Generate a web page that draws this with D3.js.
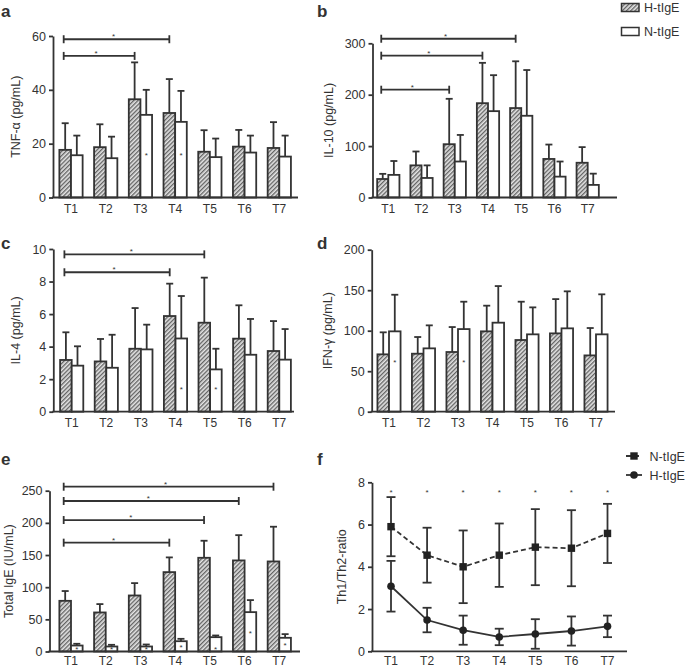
<!DOCTYPE html>
<html><head><meta charset="utf-8">
<script src="https://cdn.jsdelivr.net/npm/d3@7"></script>
<style>
body{margin:0;background:#fff;}
svg text{font-family:"Liberation Sans",Arial,Helvetica,sans-serif;fill:#333;}
</style></head><body>
<svg id="chart" width="685" height="668"></svg>
<script>
// ---------- data ----------
const times = ["T1","T2","T3","T4","T5","T6","T7"];
const groupNames = ["H-tIgE","N-tIgE"];

// a: TNF-alpha (pg/mL)
const tnfH   = [17.7, 18.7, 36.5, 31.4, 17.0, 18.9, 18.4];
const tnfHsd = [9.9, 8.5, 13.7, 12.6, 8.0, 6.2, 9.6];
const tnfN   = [15.7, 14.6, 30.7, 28.1, 15.0, 16.7, 15.2];
const tnfNsd = [7.3, 8.0, 9.3, 11.5, 6.9, 6.3, 7.8];
const tnfTicks = [0, 20, 40, 60];
const tnfBrackets = [[0, 3, 58.8], [0, 2, 52.6]];
const tnfStars = [[2, 16.5], [3, 16.5]];

// b: IL-10 (pg/mL)
const il10H   = [36, 62.5, 103.7, 183.5, 174, 75, 67.6];
const il10Hsd = [10, 27, 88.3, 78.5, 91, 28, 30.4];
const il10N   = [44, 38, 70, 168, 159, 40.6, 24.5];
const il10Nsd = [27, 24.5, 51.7, 70, 89, 29.4, 21.9];
const il10Ticks = [0, 100, 200, 300];
const il10Brackets = [[0, 4, 308.9], [0, 3, 275.9], [0, 2, 209.7]];
const il10Stars = [];

// c: IL-4 (pg/mL)
const il4H   = [3.18, 3.09, 3.87, 5.88, 5.47, 4.49, 3.73];
const il4Hsd = [1.70, 1.38, 2.50, 1.99, 2.77, 2.05, 1.84];
const il4N   = [2.83, 2.70, 3.83, 4.50, 2.60, 3.50, 3.20];
const il4Nsd = [1.19, 2.03, 1.52, 2.61, 1.27, 2.20, 1.88];
const il4Ticks = [0, 2, 4, 6, 8, 10];
const il4Brackets = [[0, 4, 9.67], [0, 3, 8.57]];
const il4Stars = [[3, 1.5], [4, 1.5]];

// d: IFN-gamma (pg/mL)
const ifnH   = [70.8, 71.6, 73.7, 99.2, 88.5, 96.7, 69.5];
const ifnHsd = [27.2, 20.6, 30.8, 31.7, 47.3, 42.3, 33.8];
const ifnN   = [99.2, 78.2, 102, 109.9, 95.5, 102.9, 95.5];
const ifnNsd = [45.2, 28.4, 33.8, 45.2, 33.3, 45.7, 49.4];
const ifnTicks = [0, 50, 100, 150, 200];
const ifnBrackets = [];
const ifnStars = [[0, 63], [2, 63]];

// e: Total IgE (IU/mL)
const igeH   = [78.8, 60.7, 87.1, 123.4, 145.7, 141.6, 140];
const igeHsd = [15.2, 13, 19.2, 22.9, 26.5, 39.3, 54];
const igeN   = [9.3, 7.8, 7.8, 16, 22.3, 61.2, 21.3];
const igeNsd = [2.7, 2.6, 3.1, 3.7, 2.6, 18.7, 5.7];
const igeTicks = [0, 50, 100, 150, 200, 250];
const igeBrackets = [[0, 6, 256.2], [0, 5, 234], [0, 4, 204.4], [0, 3, 169.2]];
const igeStars = [[0, 6], [1, 5.6], [2, 5.6], [3, 9], [4, 6.5], [5, 30.8], [6, 12.7]];

// f: Th1/Th2 ratio
const ratioN   = [5.9, 4.55, 4.0, 4.55, 4.93, 4.88, 5.58];
const ratioNsd = [1.4, 1.3, 1.72, 1.5, 1.8, 1.8, 1.4];
const ratioH   = [3.08, 1.48, 1.0, 0.68, 0.82, 0.96, 1.18];
const ratioHsd = [1.2, 0.58, 0.69, 0.39, 0.7, 0.69, 0.51];
const ratioTicks = [0, 2, 4, 6, 8];
const ratioStarLevel = 7.6;

// ---------- drawing ----------
const INK = "#333";
const LW = 1.8;
const svg = d3.select("#chart");
const defs = svg.append("defs");
const pat = defs.append("pattern").attr("id", "hatch")
  .attr("patternUnits", "userSpaceOnUse").attr("width", 3).attr("height", 3)
  .attr("patternTransform", "rotate(45)");
pat.append("rect").attr("width", 3).attr("height", 3).attr("fill", "#e4e4e4");
pat.append("line").attr("x1", 0.7).attr("y1", -1).attr("x2", 0.7).attr("y2", 4)
  .attr("stroke", "#555").attr("stroke-width", 1.2);

function yAxis(g, p, y) {
  const ax = g.append("g").attr("transform", `translate(${p.x0},0)`)
    .call(d3.axisLeft(y).tickValues(p.ticks).tickSize(4).tickSizeOuter(0).tickPadding(3));
  ax.select(".domain").attr("stroke", INK).attr("stroke-width", LW);
  ax.selectAll(".tick line").attr("stroke", INK).attr("stroke-width", LW);
  ax.selectAll(".tick text").attr("font-size", 12.5).attr("fill", INK)
    .attr("font-family", "Liberation Sans, Arial, sans-serif");
  g.append("text")
    .attr("transform", `translate(${p.titleX},${(p.yTop + p.yBot) / 2}) rotate(-90)`)
    .attr("text-anchor", "middle").attr("dy", "0.35em").attr("font-size", 12.5)
    .text(p.title);
  g.append("text").attr("x", p.labelX).attr("y", p.labelY)
    .attr("font-size", 17).attr("font-weight", "bold").attr("fill", "#111").text(p.label);
}

function xAxis(g, p, x) {
  g.append("line").attr("x1", p.x0 - 1).attr("x2", p.x1).attr("y1", p.yBot).attr("y2", p.yBot)
    .attr("stroke", INK).attr("stroke-width", LW);
  g.selectAll(".xl").data(times).join("text")
    .attr("x", d => x(d)).attr("y", p.yBot + (p.labelOff || 15.5)).attr("text-anchor", "middle")
    .attr("font-size", 12).text(d => d);
}

function star(g, cx, cy) {
  g.append("text").attr("x", cx).attr("y", cy + 4.6).attr("text-anchor", "middle")
    .attr("font-size", 8).text("*");
}

function drawBars(p) {
  const g = svg.append("g");
  const x = d3.scalePoint().domain(times).range([p.c1, p.c7]);
  const bw = x.step() * 0.335;
  const y = d3.scaleLinear().domain([0, d3.max(p.ticks)]).range([p.yBot, p.yTop]);
  const series = [
    {vals: p.H, sd: p.Hsd, off: -bw, fill: "url(#hatch)"},
    {vals: p.N, sd: p.Nsd, off: 0, fill: "#fff"}
  ];
  series.forEach(s => {
    const d = times.map((t, i) => ({t, v: s.vals[i], e: s.sd[i]}));
    g.selectAll(null).data(d).join("line")
      .attr("x1", q => x(q.t) + s.off + bw / 2).attr("x2", q => x(q.t) + s.off + bw / 2)
      .attr("y1", q => y(q.v)).attr("y2", q => y(q.v + q.e))
      .attr("stroke", INK).attr("stroke-width", LW);
    g.selectAll(null).data(d).join("line")
      .attr("x1", q => x(q.t) + s.off + bw / 2 - 3.5).attr("x2", q => x(q.t) + s.off + bw / 2 + 3.5)
      .attr("y1", q => y(q.v + q.e)).attr("y2", q => y(q.v + q.e))
      .attr("stroke", INK).attr("stroke-width", LW);
    g.selectAll(null).data(d).join("rect")
      .attr("x", q => x(q.t) + s.off).attr("y", q => y(q.v))
      .attr("width", bw).attr("height", q => y(0) - y(q.v))
      .attr("fill", s.fill).attr("stroke", INK).attr("stroke-width", LW);
  });
  xAxis(g, p, x);
  yAxis(g, p, y);
  p.brackets.forEach(([i, j, v]) => {
    const xa = x(times[i]) - bw / 2 - 1.5, xb = x(times[j]) - bw / 2, yy = y(v);
    g.append("line").attr("x1", xa).attr("x2", xb).attr("y1", yy).attr("y2", yy)
      .attr("stroke", INK).attr("stroke-width", LW);
    [xa, xb].forEach(xx => g.append("line").attr("x1", xx).attr("x2", xx)
      .attr("y1", yy - 4).attr("y2", yy + 4).attr("stroke", INK).attr("stroke-width", LW));
    star(g, (xa + xb) / 2 - 3, yy - 4.5);
  });
  p.stars.forEach(([i, v]) => star(g, x(times[i]) + bw / 2, y(v)));
}

const barPanels = [
  {label: "a", title: "TNF-\u03b1 (pg/mL)", H: tnfH, Hsd: tnfHsd, N: tnfN, Nsd: tnfNsd,
   ticks: tnfTicks, brackets: tnfBrackets, stars: tnfStars,
   x0: 53, x1: 298, c1: 71, c7: 279.3, yTop: 36, yBot: 197.5, titleX: 16, labelX: 1, labelY: 17},
  {label: "b", title: "IL-10 (pg/mL)", H: il10H, Hsd: il10Hsd, N: il10N, Nsd: il10Nsd,
   ticks: il10Ticks, brackets: il10Brackets, stars: il10Stars,
   x0: 372.5, x1: 617, c1: 388.3, c7: 587.7, yTop: 43.3, yBot: 197.5, titleX: 329, labelX: 317, labelY: 17},
  {label: "c", title: "IL-4 (pg/mL)", H: il4H, Hsd: il4Hsd, N: il4N, Nsd: il4Nsd,
   ticks: il4Ticks, brackets: il4Brackets, stars: il4Stars,
   x0: 53.3, x1: 294, c1: 71.7, c7: 279.3, yTop: 249, yBot: 411.7, titleX: 16, labelX: 1, labelY: 248.5},
  {label: "d", title: "IFN-\u03b3 (pg/mL)", H: ifnH, Hsd: ifnHsd, N: ifnN, Nsd: ifnNsd,
   ticks: ifnTicks, brackets: ifnBrackets, stars: ifnStars,
   x0: 371.7, x1: 615, c1: 389, c7: 596, yTop: 249.7, yBot: 411.7, titleX: 328, labelX: 317, labelY: 248.5},
  {label: "e", title: "Total IgE (IU/mL)", H: igeH, Hsd: igeHsd, N: igeN, Nsd: igeNsd,
   ticks: igeTicks, brackets: igeBrackets, stars: igeStars, labelOff: 13.8,
   x0: 49.5, x1: 300, c1: 71, c7: 279.3, yTop: 490.7, yBot: 651.5, titleX: 9, labelX: 1, labelY: 465}
];
barPanels.forEach(drawBars);

// legend (bars)
const leg = svg.append("g");
[{n: groupNames[0], fill: "url(#hatch)", y: 3.5}, {n: groupNames[1], fill: "#fff", y: 27.5}].forEach(r => {
  leg.append("rect").attr("x", 621.5).attr("y", r.y).attr("width", 17.5).attr("height", 8)
    .attr("fill", r.fill).attr("stroke", INK).attr("stroke-width", 1.5);
  leg.append("text").attr("x", 644).attr("y", r.y + 8.5).attr("font-size", 12.5).text(r.n);
});

// ---------- panel f ----------
(function () {
  const p = {label: "f", title: "Th1/Th2-ratio", ticks: ratioTicks, labelOff: 13.8,
    x0: 372, x1: 627, c1: 391, c7: 607.5, yTop: 482.3, yBot: 651.3, titleX: 342, labelX: 317, labelY: 465};
  const g = svg.append("g");
  const x = d3.scalePoint().domain(times).range([p.c1, p.c7]);
  const y = d3.scaleLinear().domain([0, d3.max(p.ticks)]).range([p.yBot, p.yTop]);
  xAxis(g, p, x);
  yAxis(g, p, y);
  const sets = [
    {m: ratioN, sd: ratioNsd, dash: "5,3", shape: "square"},
    {m: ratioH, sd: ratioHsd, dash: null, shape: "circle"}
  ];
  sets.forEach(s => {
    const d = times.map((t, i) => ({t, m: s.m[i], e: s.sd[i]}));
    g.selectAll(null).data(d).join("line")
      .attr("x1", q => x(q.t)).attr("x2", q => x(q.t))
      .attr("y1", q => y(q.m - q.e)).attr("y2", q => y(q.m + q.e))
      .attr("stroke", INK).attr("stroke-width", LW);
    [1, -1].forEach(sg => g.selectAll(null).data(d).join("line")
      .attr("x1", q => x(q.t) - 4.5).attr("x2", q => x(q.t) + 4.5)
      .attr("y1", q => y(q.m + sg * q.e)).attr("y2", q => y(q.m + sg * q.e))
      .attr("stroke", INK).attr("stroke-width", LW));
    g.append("path").datum(d)
      .attr("d", d3.line().x(q => x(q.t)).y(q => y(q.m)))
      .attr("fill", "none").attr("stroke", INK).attr("stroke-width", LW)
      .attr("stroke-dasharray", s.dash);
    if (s.shape === "square") {
      g.selectAll(null).data(d).join("rect")
        .attr("x", q => x(q.t) - 3.7).attr("y", q => y(q.m) - 3.7)
        .attr("width", 7.4).attr("height", 7.4).attr("fill", "#222");
    } else {
      g.selectAll(null).data(d).join("circle")
        .attr("cx", q => x(q.t)).attr("cy", q => y(q.m)).attr("r", 3.8).attr("fill", "#222");
    }
  });
  times.forEach(t => star(g, x(t), y(ratioStarLevel)));
  const rows = [{n: groupNames[1], dash: "5,3", shape: "square", y: 456},
                {n: groupNames[0], dash: null, shape: "circle", y: 475}];
  rows.forEach(r => {
    g.append("line").attr("x1", 626).attr("x2", 642).attr("y1", r.y).attr("y2", r.y)
      .attr("stroke", INK).attr("stroke-width", LW).attr("stroke-dasharray", r.dash);
    if (r.shape === "square") g.append("rect").attr("x", 630.3).attr("y", r.y - 3.7)
      .attr("width", 7.4).attr("height", 7.4).attr("fill", "#222");
    else g.append("circle").attr("cx", 634).attr("cy", r.y).attr("r", 3.8).attr("fill", "#222");
    g.append("text").attr("x", 649.5).attr("y", r.y + 4.5).attr("font-size", 12.5).text(r.n);
  });
})();
</script>
</body></html>
